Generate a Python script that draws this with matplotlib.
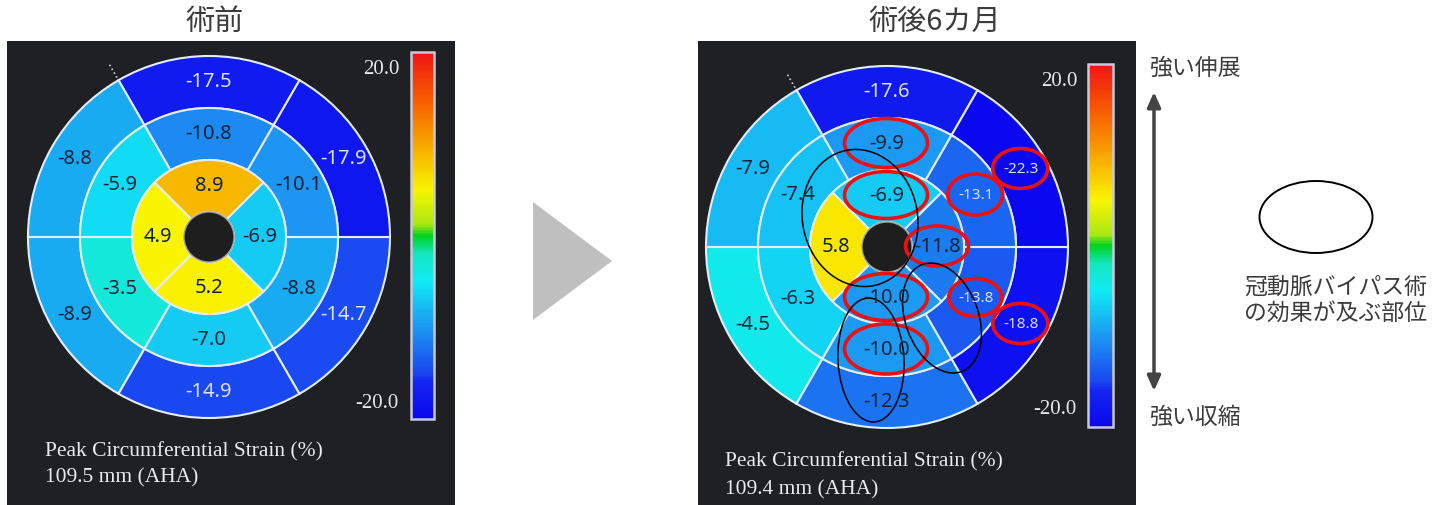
import numpy as np
import matplotlib
matplotlib.use("Agg")
import matplotlib.pyplot as plt
from matplotlib.patches import Wedge, Circle, Ellipse, Polygon, Rectangle
from matplotlib.colors import LinearSegmentedColormap, Normalize
from matplotlib.colorbar import ColorbarBase

W, H = 1435, 505
JP = ["Noto Sans CJK JP", "DejaVu Sans"]

# AHA 16 segments, peak circumferential strain (%)
# basal / mid: anterior, anteroseptal, inferoseptal, inferior, inferolateral, anterolateral
# apical: anterior, septal, inferior, lateral
pre_basal = [-17.5, -8.8, -8.9, -14.9, -14.7, -17.9]
pre_mid = [-10.8, -5.9, -3.5, -7.0, -8.8, -10.1]
pre_apical = [8.9, 4.9, 5.2, -6.9]
post_basal = [-17.6, -7.9, -4.5, -12.3, -18.8, -22.3]
post_mid = [-9.9, -7.4, -6.3, -10.0, -13.8, -13.1]
post_apical = [-6.9, 5.8, -10.0, -11.8]

titles = ["術前", "術後6カ月"]
notes = ["109.5 mm (AHA)", "109.4 mm (AHA)"]
vmin, vmax = -20.0, 20.0

# segments circled in red on the post-op map: (ring, index, width, height)
red_marks = [("mid", 0, 83, 49), ("apical", 0, 83, 47), ("apical", 3, 63, 40),
             ("apical", 2, 83, 47), ("mid", 3, 83, 50), ("basal", 5, 55, 40),
             ("mid", 5, 55, 41), ("mid", 4, 53, 38), ("basal", 4, 55, 40)]
# black ellipses: (dx, dy from bullseye centre, width, height, angle)
black_marks = [(-27, 29, 115, 138, 12), (55, -71, 73, 114, 20), (-16, -113, 66, 124, 3)]

# colour scale like the echo software: blue - cyan - green(0) - yellow - red
cmap = LinearSegmentedColormap.from_list("strain", [
    (0.000, "#0a08ee"), (0.100, "#1426f0"), (0.125, "#1a48f0"),
    (0.250, "#1c98f2"), (0.375, "#10eaf4"), (0.450, "#16e6c0"),
    (0.500, "#00d21e"), (0.530, "#a8e814"), (0.625, "#faf500"),
    (0.750, "#f8a600"), (0.875, "#f85a00"), (1.000, "#f01414"),
])
norm = Normalize(vmin, vmax)

BG = "#1f2023"
LINE = "#e4ecf6"
DARK_TXT = "#0e2236"
LIGHT_TXT = "#dde0ff"

fig = plt.figure(figsize=(W / 100, H / 100), dpi=100)
ax = fig.add_axes([0, 0, 1, 1])
ax.set_xlim(0, W)
ax.set_ylim(0, H)
ax.axis("off")

radii = [25, 77, 129, 181]
ring_spans = {
    "apical": (radii[0], radii[1], 4, 45),
    "mid": (radii[1], radii[2], 6, 60),
    "basal": (radii[2], radii[3], 6, 60),
}


def seg_geom(ring, i):
    r0, r1, n, start = ring_spans[ring]
    step = 360 / n
    a1 = start + i * step
    return r0, r1, a1, a1 + step


def label_pos(cx, cy, ring, i):
    r0, r1, a1, a2 = seg_geom(ring, i)
    a = np.radians((a1 + a2) / 2)
    rm = (r0 + r1) / 2
    return cx + rm * np.cos(a), cy + rm * np.sin(a)


def bullseye(cx, cy, rings, small=()):
    for ring, vals in rings.items():
        for i, v in enumerate(vals):
            r0, r1, a1, a2 = seg_geom(ring, i)
            ax.add_patch(Wedge((cx, cy), r1, a1, a2, width=r1 - r0,
                               facecolor=cmap(norm(v)), edgecolor=LINE, lw=1.5))
            x, y = label_pos(cx, cy, ring, i)
            fs = 11 if (ring, i) in small else 14.5
            ax.text(x, y, f"{v:.1f}", ha="center", va="center", fontsize=fs,
                    family="Noto Sans", color=LIGHT_TXT if v <= -13 else DARK_TXT)
    ax.add_patch(Circle((cx, cy), radii[0], facecolor="#1e1e1e", edgecolor="#9a9a9a", lw=1))
    a = np.radians(120)
    ax.plot([cx + 184 * np.cos(a), cx + 200 * np.cos(a)],
            [cy + 184 * np.sin(a), cy + 200 * np.sin(a)], ls=":", color="#cfcfcf", lw=1.2)


def colorbar(rect, top_lbl, bot_lbl, xr):
    cax = fig.add_axes([rect[0] / W, (H - rect[3]) / H, (rect[2] - rect[0]) / W,
                        (rect[3] - rect[1]) / H])
    cb = ColorbarBase(cax, cmap=cmap, norm=norm, orientation="vertical")
    cb.set_ticks([])
    cb.outline.set_edgecolor("#c8c8dc")
    cb.outline.set_linewidth(1.8)
    ax.text(xr, top_lbl, f"{vmax:.1f}", ha="right", va="center", fontsize=15,
            family="Liberation Serif", color="#e8e8e8")
    ax.text(xr, bot_lbl, f"{vmin:.1f}", ha="right", va="center", fontsize=15,
            family="Liberation Serif", color="#e8e8e8")


# ---------- left panel (pre-op) ----------
ax.add_patch(Rectangle((7, 0), 448, H - 41, facecolor=BG, edgecolor="none"))
cxL, cyL = 209, H - 237
bullseye(cxL, cyL, {"basal": pre_basal, "mid": pre_mid, "apical": pre_apical})
colorbar((411, 52, 434, 419), H - 70, H - 403, 399)
ax.text(215, H - 22, titles[0], ha="center", va="center", fontsize=21, family=JP, color="#3c3c3c")
ax.text(45, H - 452, "Peak Circumferential Strain (%)", ha="left", va="center",
        fontsize=15.5, family="Liberation Serif", color="#ececec")
ax.text(45, H - 478, notes[0], ha="left", va="center",
        fontsize=15.5, family="Liberation Serif", color="#ececec")

# ---------- arrow between panels ----------
ax.add_patch(Polygon([(533, H - 202), (533, H - 320), (612, H - 261)],
                     closed=True, facecolor="#bfbfbf", edgecolor="none"))

# ---------- right panel (6 months post-op) ----------
ax.add_patch(Rectangle((698, 0), 438, H - 41, facecolor=BG, edgecolor="none"))
cxR, cyR = 887, H - 247
bullseye(cxR, cyR, {"basal": post_basal, "mid": post_mid, "apical": post_apical},
         small={("basal", 5), ("mid", 5), ("mid", 4), ("basal", 4)})
colorbar((1088, 64, 1113, 427), H - 82, H - 410, 1077)
ax.text(935, H - 22, titles[1], ha="center", va="center", fontsize=21, family=JP, color="#3c3c3c")
ax.text(725, H - 462, "Peak Circumferential Strain (%)", ha="left", va="center",
        fontsize=15.5, family="Liberation Serif", color="#ececec")
ax.text(725, H - 490, notes[1], ha="left", va="center",
        fontsize=15.5, family="Liberation Serif", color="#ececec")

for ring, i, w, h in red_marks:
    x, y = label_pos(cxR, cyR, ring, i)
    ax.add_patch(Ellipse((x - 1, y + 1), w, h, facecolor="none", edgecolor="#ee1010", lw=2.6))
for dx, dy, w, h, ang in black_marks:
    ax.add_patch(Ellipse((cxR + dx, cyR + dy), w, h, angle=ang,
                         facecolor="none", edgecolor="black", lw=1.1))

# ---------- legend on the right ----------
ax.text(1150, H - 68, "強い伸展", ha="left", va="center", fontsize=16.5, family=JP, color="#3c3c3c")
ax.text(1150, H - 417, "強い収縮", ha="left", va="center", fontsize=16.5, family=JP, color="#3c3c3c")
ax.annotate("", xy=(1154, H - 92), xytext=(1154, H - 391),
            arrowprops=dict(arrowstyle="<|-|>,head_length=0.9,head_width=0.4",
                            color="#444444", lw=2.5, shrinkA=0, shrinkB=0))
ax.add_patch(Ellipse((1316, H - 217), 113, 72, facecolor="none", edgecolor="black", lw=1.4))
ax.text(1336, H - 287, "冠動脈バイパス術", ha="center", va="center", fontsize=16.5,
        family=JP, color="#3c3c3c")
ax.text(1336, H - 313, "の効果が及ぶ部位", ha="center", va="center", fontsize=16.5,
        family=JP, color="#3c3c3c")

fig.savefig("out.png", dpi=100, facecolor="white")
